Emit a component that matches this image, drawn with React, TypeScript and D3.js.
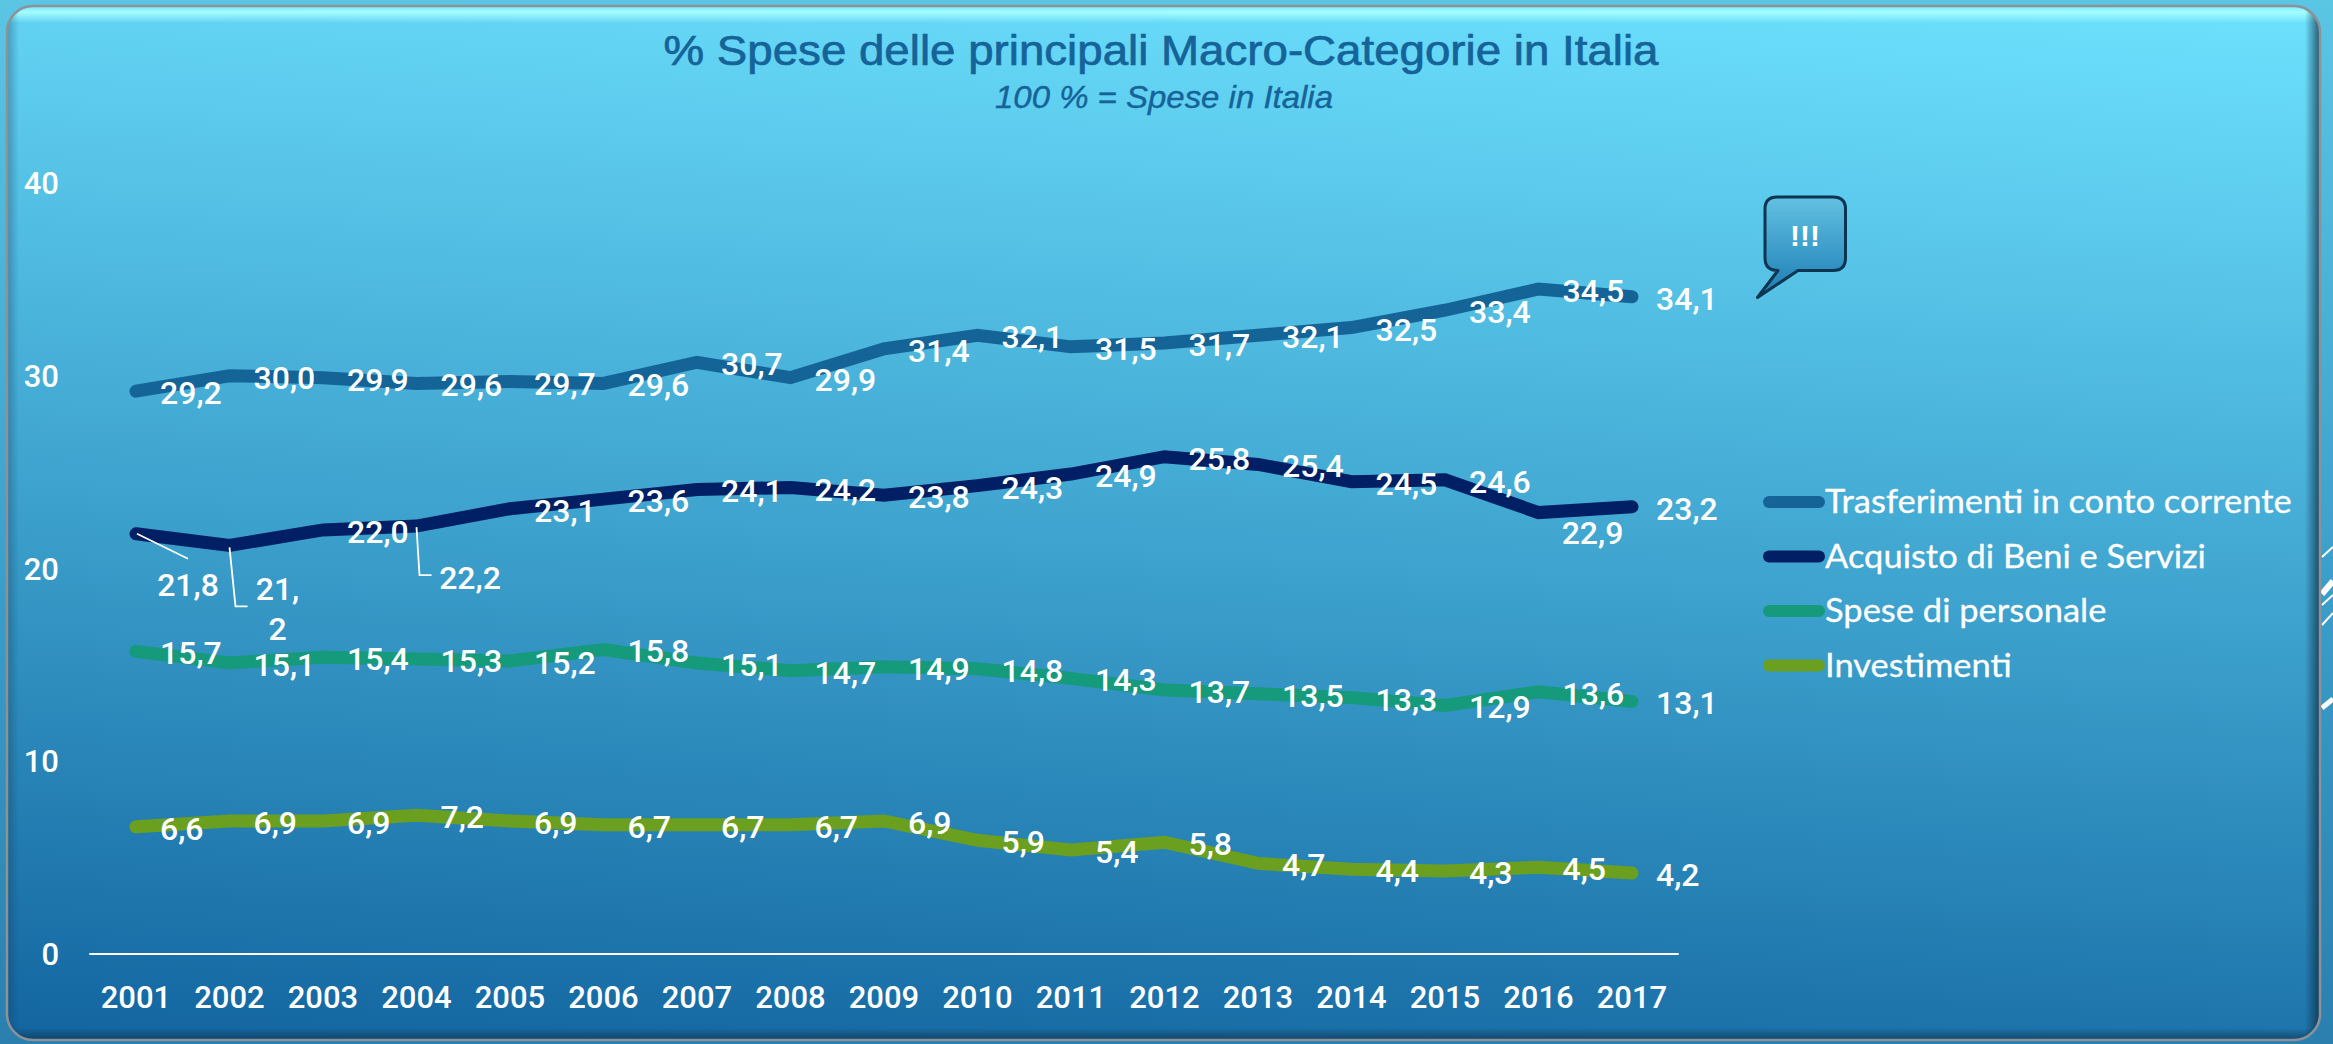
import React from "react";
import * as d3 from "d3";

const W = 2333;
const H = 1044;

const years = ["2001","2002","2003","2004","2005","2006","2007","2008","2009","2010","2011","2012","2013","2014","2015","2016","2017"];
const yTicks = [0, 10, 20, 30, 40];

const trasferimenti = [29.2,30.0,29.9,29.6,29.7,29.6,30.7,29.9,31.4,32.1,31.5,31.7,32.1,32.5,33.4,34.5,34.1];
const acquisto = [21.8,21.2,22.0,22.2,23.1,23.6,24.1,24.2,23.8,24.3,24.9,25.8,25.4,24.5,24.6,22.9,23.2];
const personale = [15.7,15.1,15.4,15.3,15.2,15.8,15.1,14.7,14.9,14.8,14.3,13.7,13.5,13.3,12.9,13.6,13.1];
const investimenti = [6.6,6.9,6.9,7.2,6.9,6.7,6.7,6.7,6.9,5.9,5.4,5.8,4.7,4.4,4.3,4.5,4.2];

const seriesNames = ["Trasferimenti in conto corrente","Acquisto di Beni e Servizi","Spese di personale","Investimenti"];
const seriesColors = ["#156498","#001f64","#169a7c","#6b9f1f"];
const seriesValues = [trasferimenti, acquisto, personale, investimenti];

// moved data labels of the second series: index -> offset of the label's centre from the point
const movedLabels: Record<number, { dx: number; dy: number }> = {
  0: { dx: 52, dy: 51 },
  1: { dx: 48, dy: 43 },
  3: { dx: 53.5, dy: 51 },
  15: { dx: 54, dy: 20 },
};
const leaders: Record<number, [number, number][]> = {
  0: [[1, 0], [52, 25]],
  1: [[0, 2], [6, 61], [18, 61]],
  3: [[0, 1], [3, 49], [15, 49]],
};

const LABEL_FONT = "Roboto, sans-serif";
const LEGEND_FONT = "Lato, sans-serif";
const TITLE_FONT = "'Liberation Sans', Arial, sans-serif";

const fmt = (v: number) => v.toFixed(1).replace(".", ",");

export default function App() {
  const x = d3.scalePoint<string>().domain(years).range([89.25, 1678.75]).padding(0.5);
  const y = d3.scaleLinear().domain([0, 40]).range([954, 183]);
  const line = d3.line<number>().x((_, i) => x(years[i]) as number).y((d) => y(d));
  const panel = { x: 7, y: 6, w: 2313, h: 1034, r: 26 };

  return (
    <svg width={W} height={H} viewBox={`0 0 ${W} ${H}`} style={{ position: "absolute", left: 0, top: 0, display: "block" }}>
      <defs>
        <linearGradient id="bg" x1="0" y1="0" x2="0" y2="1">
          <stop offset="0" stopColor="#5ac6e4" />
          <stop offset="0.55" stopColor="#3b9fcb" />
          <stop offset="1" stopColor="#2a7fae" />
        </linearGradient>
        <linearGradient id="panel" gradientUnits="userSpaceOnUse" x1="2333" y1="0" x2="2259" y2="1220">
          <stop offset="0" stopColor="#6ee2ff" />
          <stop offset="0.507" stopColor="#3ea3ce" />
          <stop offset="0.97" stopColor="#12649f" />
        </linearGradient>
        <linearGradient id="topGlow" x1="0" y1="0" x2="0" y2="1">
          <stop offset="0" stopColor="#8ff3ff" stopOpacity="0.5" />
          <stop offset="0.35" stopColor="#a4feff" stopOpacity="1" />
          <stop offset="1" stopColor="#a4feff" stopOpacity="0" />
        </linearGradient>
        <linearGradient id="rightShade" x1="0" y1="0" x2="1" y2="0">
          <stop offset="0" stopColor="#0e2a40" stopOpacity="0" />
          <stop offset="1" stopColor="#0e2a40" stopOpacity="0.75" />
        </linearGradient>
        <linearGradient id="leftShade" x1="1" y1="0" x2="0" y2="0">
          <stop offset="0" stopColor="#0e3a55" stopOpacity="0" />
          <stop offset="1" stopColor="#0e3a55" stopOpacity="0.35" />
        </linearGradient>
        <linearGradient id="bottomShade" x1="0" y1="0" x2="0" y2="1">
          <stop offset="0" stopColor="#0e2a40" stopOpacity="0" />
          <stop offset="1" stopColor="#0e2a40" stopOpacity="0.6" />
        </linearGradient>
        <linearGradient id="bubble" x1="0" y1="0" x2="0" y2="1">
          <stop offset="0" stopColor="#62c1e2" />
          <stop offset="1" stopColor="#1c7cb3" />
        </linearGradient>
        <clipPath id="panelClip">
          <rect x={panel.x} y={panel.y} width={panel.w} height={panel.h} rx={panel.r} />
        </clipPath>
      </defs>

      <rect width={W} height={H} fill="url(#bg)" />
      <g stroke="#ffffff" fill="none">
        <line x1="2322" y1="557" x2="2333" y2="547" strokeWidth="2" />
        <line x1="2322" y1="594" x2="2333" y2="581" strokeWidth="6" />
        <line x1="2322" y1="605" x2="2333" y2="595" strokeWidth="2" />
        <line x1="2322" y1="625" x2="2333" y2="613" strokeWidth="2" />
        <line x1="2322" y1="708" x2="2333" y2="699" strokeWidth="5" />
      </g>

      <rect x={panel.x} y={panel.y} width={panel.w} height={panel.h} rx={panel.r} fill="url(#panel)" />
      <g clipPath="url(#panelClip)">
        <rect x={panel.x} y={panel.y} width={panel.w} height={17} fill="url(#topGlow)" />
        <rect x={2305} y={panel.y} width={15} height={panel.h} fill="url(#rightShade)" />
        <rect x={panel.x} y={panel.y} width={12} height={panel.h} fill="url(#leftShade)" />
        <rect x={panel.x} y={1028} width={panel.w} height={12} fill="url(#bottomShade)" />
      </g>
      <rect x={panel.x} y={panel.y} width={panel.w} height={panel.h} rx={panel.r} fill="none" stroke="#8d9299" strokeWidth="2.5" />

      <text x={1161} y={65} textAnchor="middle" fontFamily={TITLE_FONT} fontSize={42} fill="#156398" stroke="#156398" strokeWidth={0.7} textLength={995} lengthAdjust="spacingAndGlyphs">
        % Spese delle principali Macro-Categorie in Italia
      </text>
      <text x={1164} y={108} textAnchor="middle" fontFamily={TITLE_FONT} fontStyle="italic" fontSize={32} fill="#156398" stroke="#156398" strokeWidth={0.4} textLength={338} lengthAdjust="spacingAndGlyphs">
        100 % = Spese in Italia
      </text>

      {yTicks.map((t) => (
        <text key={t} x={59} y={y(t) + 11} textAnchor="end" fontFamily={LABEL_FONT} fontWeight={500} fontSize={31} fill="#fff">{t}</text>
      ))}
      <line x1={x.range()[0]} x2={x.range()[1]} y1={y(0)} y2={y(0)} stroke="#fff" strokeWidth={2} />
      {years.map((yr) => (
        <text key={yr} x={x(yr)} y={1008} textAnchor="middle" fontFamily={LABEL_FONT} fontWeight={500} fontSize={31} fill="#fff">{yr}</text>
      ))}

      {seriesValues.map((vals, s) => (
        <path key={s} d={line(vals) as string} fill="none" stroke={seriesColors[s]} strokeWidth={13} strokeLinecap="round" strokeLinejoin="miter" />
      ))}

      {Object.entries(leaders).map(([k, pts]) => {
        const i = +k;
        const px = x(years[i]) as number;
        const py = y(acquisto[i]);
        return (
          <polyline key={k} points={pts.map(([a, b]) => `${px + a},${py + b}`).join(" ")} fill="none" stroke="#fff" strokeWidth={1.8} />
        );
      })}

      {seriesValues.map((vals, s) =>
        vals.map((v, i) => {
          const px = x(years[i]) as number;
          const py = y(v);
          const moved = s === 1 ? movedLabels[i] : undefined;
          const lx = px + (moved ? moved.dx : 24);
          const ly = py + (moved ? moved.dy : 1.5) + 11.5;
          const txt = fmt(v);
          const common = { textAnchor: (moved ? "middle" : "start") as "middle" | "start", fontFamily: LABEL_FONT, fontWeight: 500, fontSize: 32, fill: "#fff" };
          if (s === 1 && i === 1) {
            const [a, b] = txt.split(",");
            return (
              <text key={`${s}-${i}`} {...common}>
                <tspan x={lx} y={ly}>{a},</tspan>
                <tspan x={lx} y={ly + 40}>{b}</tspan>
              </text>
            );
          }
          return <text key={`${s}-${i}`} x={lx} y={ly} {...common}>{txt}</text>;
        })
      )}

      <path d="M1778 270.5 L1757.5 297.5 L1798 270.5 L1833 270.5 Q1845.5 270.5 1845.5 258 L1845.5 209 Q1845.5 197 1833 197 L1777 197 Q1765 197 1765 209 L1765 258 Q1765 270.5 1778 270.5 Z"
        fill="url(#bubble)" stroke="#0b3550" strokeWidth={3} strokeLinejoin="round" />
      <text x={1805} y={246} textAnchor="middle" fontFamily={TITLE_FONT} fontWeight={700} fontSize={30} fill="#fff">!!!</text>

      {seriesNames.map((n, i) => (
        <g key={n}>
          <line x1={1769} x2={1819} y1={502 + i * 54.5} y2={502 + i * 54.5} stroke={seriesColors[i]} strokeWidth={12} strokeLinecap="round" />
          <text transform={`translate(1825,${513 + i * 54.5}) scale(1.045,1)`} fontFamily={LEGEND_FONT} fontSize={33} fill="#fff" stroke="#fff" strokeWidth={0.3}>{n}</text>
        </g>
      ))}
    </svg>
  );
}
